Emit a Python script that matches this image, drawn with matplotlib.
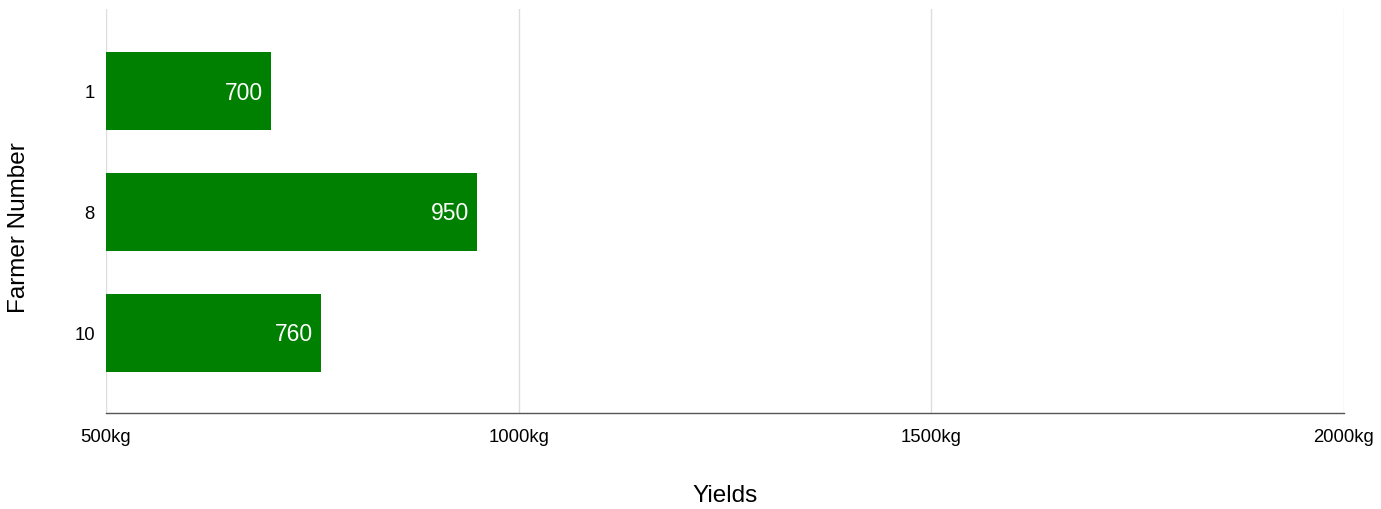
import matplotlib
matplotlib.use("Agg")
import matplotlib.pyplot as plt

farmers = ["1", "8", "10"]
yields = [700, 950, 760]
xticks = [500, 1000, 1500, 2000]
xtick_labels = ["500kg", "1000kg", "1500kg", "2000kg"]

plt.rcParams['font.family'] = ['Liberation Sans', 'DejaVu Sans']

fig = plt.figure(figsize=(13.81, 5.10), dpi=100)
ax = fig.add_axes([106/1381, 1-414/510, (1344-106)/1381, (414-10)/510])

pos = list(range(len(farmers)))
base = 500
bars = ax.barh(pos, [v - base for v in yields], left=base, height=0.645, color="#008000", zorder=3)
for p, v in zip(pos, yields):
    ax.text(v - 8/0.8253, p + 0.012, str(v), ha="right", va="center", color="white", fontsize=16.5, zorder=4)

ax.set_xlim(500, 2000)
ax.set_ylim(2.665, -0.674)
ax.set_xticks(xticks)
ax.set_xticklabels(xtick_labels, fontsize=13.3)
ax.set_yticks(pos)
ax.set_yticklabels(farmers, fontsize=13.3)
ax.tick_params(axis="both", length=0)
ax.tick_params(axis="x", pad=11)
ax.tick_params(axis="y", pad=8)
ax.grid(axis="x", color="#dddddd", linewidth=1, zorder=0)
for s in ["top", "right", "left"]:
    ax.spines[s].set_visible(False)
ax.spines["bottom"].set_color("#555555")
ax.spines["bottom"].set_linewidth(1)
ax.set_xlabel("Yields", fontsize=17.5, labelpad=28)
ax.set_ylabel("Farmer Number", fontsize=17.5)
ax.yaxis.set_label_coords(-0.061, 1 - (227.5 - 10) / 404)

fig.savefig("out.png", dpi=100)
